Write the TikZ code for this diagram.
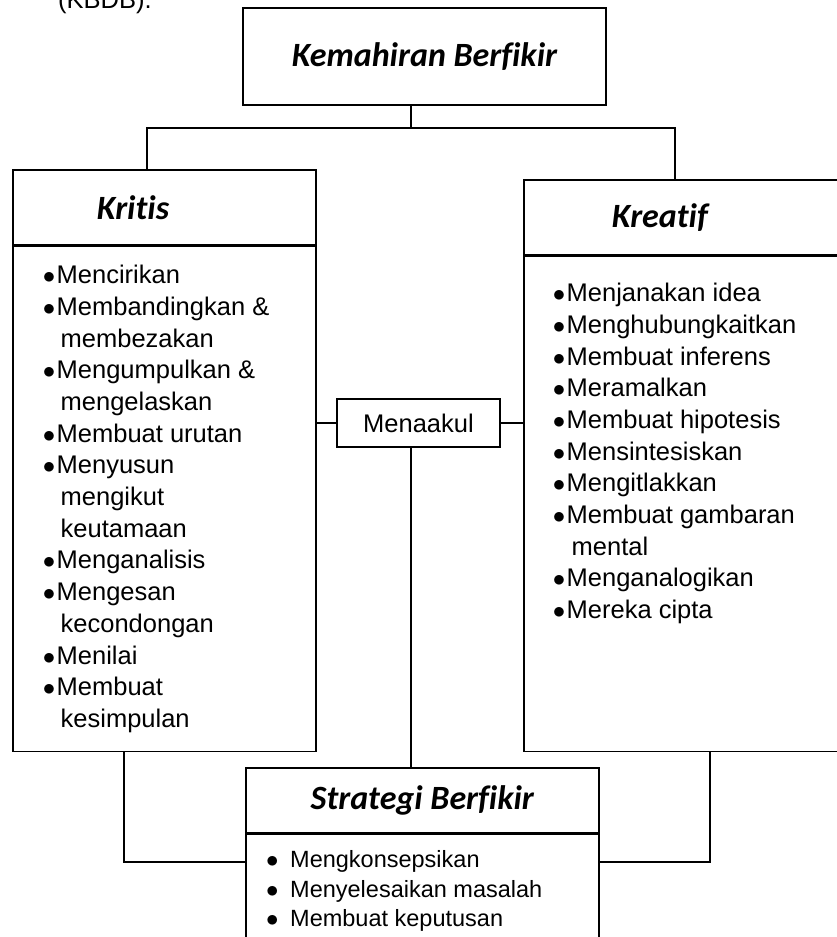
\documentclass[tikz,border=0pt]{standalone}
\usepackage{fontspec}
\setmainfont{Liberation Sans}
\newfontfamily\headfont[Ligatures=NoCommon]{Carlito}
\newcommand\bul{\makebox[11.5pt][l]{\kern-2.4pt$\bullet$}}
\usetikzlibrary{positioning}

\begin{document}
\begin{tikzpicture}[x=1pt,y=-1pt,
  box/.style={draw,line width=1.6pt,inner sep=0pt},
  head/.style={box,font=\headfont\bfseries\itshape\fontsize{34}{40}\selectfont},
  link/.style={line width=1.3pt},
  items/.style={inner sep=0pt,align=left,anchor=north west,font=\fontsize{25.5}{31.7}\selectfont}]
  \useasboundingbox (0,0) rectangle (836,937);
  \node[anchor=base west,inner sep=0pt,font=\fontsize{25.5}{31.7}\selectfont] (kbdb) at (58,8) {(KBDB).};
  \node[head,minimum width=363,minimum height=97] (kb) at (424.5,56.5) {Kemahiran Berfikir};
  \node[head,minimum width=303,minimum height=75,text width=303,align=left,anchor=north west] (kritishead) at (12,169) {\hspace*{84pt}Kritis};
  \node[box,minimum width=303,minimum height=505,below=0pt of kritishead] (kritisbody) {};
  \node[head,minimum width=340,minimum height=75,text width=340,align=left,anchor=north west] (kreatifhead) at (523,179) {\hspace*{88pt}Kreatif};
  \node[box,minimum width=340,minimum height=495,below=0pt of kreatifhead] (kreatifbody) {};
  \node[box,minimum width=163,minimum height=48,font=\fontsize{25.5}{31.7}\selectfont] (menaakul) at (418.5,423) {Menaakul};
  \node[head,minimum width=353,minimum height=65,anchor=north west] (strategihead) at (245,767) {Strategi Berfikir};
  \node[box,minimum width=353,minimum height=130,below=0pt of strategihead] (strategibody) {};

  \node[items] (kritislist) at ([shift={(33,19.4)}]kritisbody.north west) {%
    \bul Mencirikan\\
    \bul Membandingkan \&\\
    \hspace*{15.5pt}membezakan\\
    \bul Mengumpulkan \&\\
    \hspace*{15.5pt}mengelaskan\\
    \bul Membuat urutan\\
    \bul Menyusun\\
    \hspace*{15.5pt}mengikut\\
    \hspace*{15.5pt}keutamaan\\
    \bul Menganalisis\\
    \bul Mengesan\\
    \hspace*{15.5pt}kecondongan\\
    \bul Menilai\\
    \bul Membuat\\
    \hspace*{15.5pt}kesimpulan};
  \node[items] (kreatiflist) at ([shift={(32,27.4)}]kreatifbody.north west) {%
    \bul Menjanakan idea\\
    \bul Menghubungkaitkan\\
    \bul Membuat inferens\\
    \bul Meramalkan\\
    \bul Membuat hipotesis\\
    \bul Mensintesiskan\\
    \bul Mengitlakkan\\
    \bul Membuat gambaran\\
    \hspace*{16.5pt}mental\\
    \bul Menganalogikan\\
    \bul Mereka cipta};
  \node[items,font=\fontsize{23.5}{29.5}\selectfont] (strategilist) at ([shift={(23,16.8)}]strategibody.north west) {%
    \makebox[22pt][l]{\kern-2.2pt$\bullet$}Mengkonsepsikan\\
    \makebox[22pt][l]{\kern-2.2pt$\bullet$}Menyelesaikan masalah\\
    \makebox[22pt][l]{\kern-2.2pt$\bullet$}Membuat keputusan};

  \coordinate (fork) at (411,128);
  \coordinate (kleft) at (147,128);
  \coordinate (kright) at (675,128);
  \coordinate (sleft) at (124,862);
  \coordinate (sright) at (710,862);
  \draw[link] (kb.south -| fork) -- (fork);
  \draw[link] (kritishead.north -| kleft) -- (kleft) -- (kright) -- (kreatifhead.north -| kright);
  \draw[link] (kritisbody.east |- menaakul) -- (menaakul.west);
  \draw[link] (menaakul.east) -- (kreatifbody.west |- menaakul);
  \draw[link] (menaakul.south -| fork) -- (strategihead.north -| fork);
  \draw[link] (kritisbody.south -| sleft) -- (sleft) -- (strategibody.west |- sleft);
  \draw[link] (kreatifbody.south -| sright) -- (sright) -- (strategibody.east |- sright);
\end{tikzpicture}
\end{document}
